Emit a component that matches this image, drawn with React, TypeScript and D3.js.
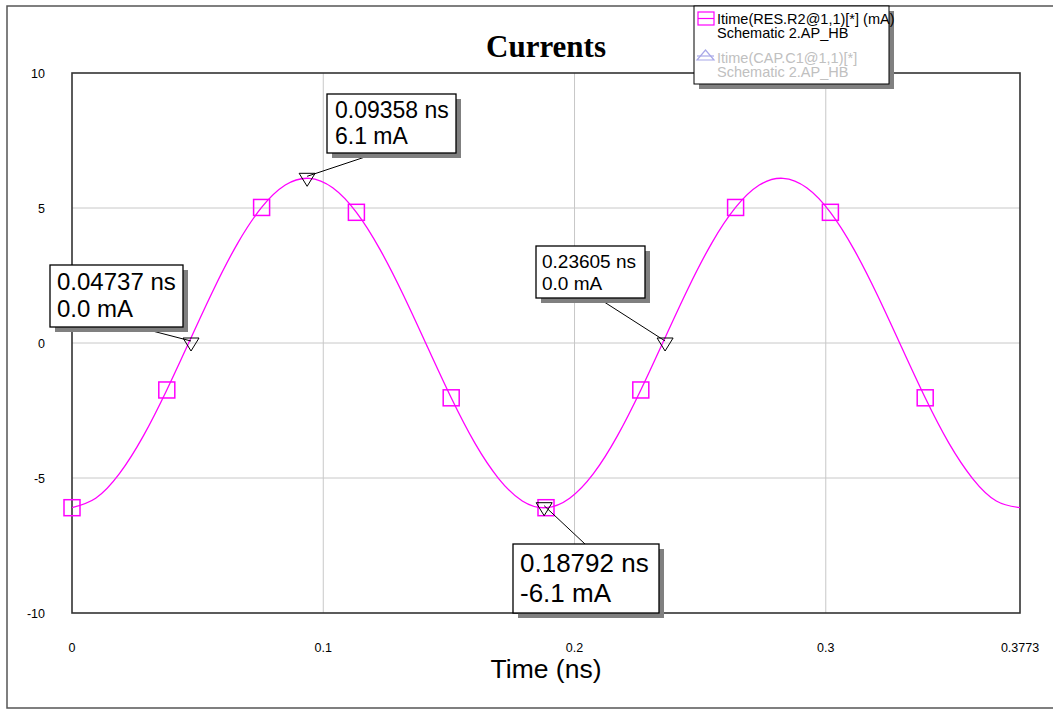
import React from "react";
import * as d3 from "d3";

// Curve samples (time in ns, current in mA)
const sampleTimes = [
  0, 0.00943, 0.01887, 0.0283, 0.03773, 0.04716, 0.0566, 0.06603, 0.07546, 0.08489,
  0.09433, 0.10376, 0.11319, 0.12262, 0.13206, 0.14149, 0.15092, 0.16035, 0.16979, 0.17922,
  0.18865, 0.19808, 0.20752, 0.21695, 0.22638, 0.23581, 0.24525, 0.25468, 0.26411, 0.27354,
  0.28298, 0.29241, 0.30184, 0.31127, 0.32071, 0.33014, 0.33957, 0.349, 0.35844, 0.36787, 0.3773,
];
const sampleValues = [
  -6.1, -5.75, -4.84, -3.46, -1.74, 0.15, 2.03, 3.71, 5.02, 5.85,
  6.1, 5.75, 4.84, 3.46, 1.74, -0.15, -2.03, -3.71, -5.02, -5.85,
  -6.1, -5.75, -4.84, -3.46, -1.74, 0.15, 2.03, 3.71, 5.02, 5.85,
  6.1, 5.75, 4.84, 3.46, 1.74, -0.15, -2.03, -3.71, -5.02, -5.85, -6.1,
];
// Square symbol markers
const markerTimes = [0, 0.03773, 0.07546, 0.11319, 0.15092, 0.18865, 0.22638, 0.26411, 0.30184, 0.33957];
const markerValues = [-6.1, -1.74, 5.02, 4.84, -2.03, -6.1, -1.74, 5.02, 4.84, -2.03];

// Cursor annotations
const cursorTimes = [0.09358, 0.04737, 0.23605, 0.18792];
const cursorValues = [6.1, 0.0, 0.0, -6.1];
const cursorLabels = [
  ["0.09358 ns", "6.1 mA"],
  ["0.04737 ns", "0.0 mA"],
  ["0.23605 ns", "0.0 mA"],
  ["0.18792 ns", "-6.1 mA"],
];

const xTicks = [0, 0.1, 0.2, 0.3, 0.3773];
const xTickLabels = ["0", "0.1", "0.2", "0.3", "0.3773"];
const yTicks = [-10, -5, 0, 5, 10];
const yTickLabels = ["-10", "-5", "0", "5", "10"];
const legendEntries = [
  ["Itime(RES.R2@1,1)[*] (mA)", "Schematic 2.AP_HB"],
  ["Itime(CAP.C1@1,1)[*]", "Schematic 2.AP_HB"],
];

const W = 1053;
const H = 711;
const L = 72, R = 1020, T = 73, B = 613;

// annotation box layout
const boxes = [
  { x: 327, y: 94, w: 129, h: 59, fs: 23, tx: 335, b1: 118, b2: 144, lx: 377, ly: 153 },
  { x: 50, y: 265, w: 133, h: 62, fs: 24, tx: 57, b1: 290, b2: 317, lx: 137, ly: 327 },
  { x: 536, y: 246, w: 109, h: 52, fs: 19, tx: 542, b1: 268, b2: 290, lx: 598, ly: 298 },
  { x: 513, y: 544, w: 146, h: 69, fs: 26, tx: 520, b1: 572, b2: 602, lx: 585, ly: 544 },
];

export default function App() {
  const x = d3.scaleLinear().domain([0, 0.3773]).range([L, R]);
  const y = d3.scaleLinear().domain([-10, 10]).range([B, T]);
  const line = d3
    .line<number>()
    .x((_, i) => x(sampleTimes[i]))
    .y((d) => y(d))
    .curve(d3.curveNatural);
  const path = line(sampleValues) || "";
  const font = "Arial, 'Liberation Sans', sans-serif";

  return (
    <svg
      width={W}
      height={H}
      style={{ position: "absolute", left: 0, top: 0, background: "#fff" }}
      fontFamily={font}
    >
      {/* outer frame */}
      <path d={`M${W},6 H7 V708 H${W}`} fill="none" stroke="#555" strokeWidth={1.5} />

      {/* title */}
      <text x={546} y={57} textAnchor="middle" fontFamily="'Liberation Serif', 'Times New Roman', serif" fontWeight="bold" fontSize={31}>
        Currents
      </text>

      {/* grid */}
      {xTicks.slice(1, 4).map((t) => (
        <line key={"gx" + t} x1={x(t)} x2={x(t)} y1={T} y2={B} stroke="#c8c8c8" strokeWidth={1} />
      ))}
      {yTicks.slice(1, 4).map((t) => (
        <line key={"gy" + t} x1={L} x2={R} y1={y(t)} y2={y(t)} stroke="#c8c8c8" strokeWidth={1} />
      ))}

      {/* plot border */}
      <rect x={L} y={T} width={R - L} height={B - T} fill="none" stroke="#333" strokeWidth={1.6} />

      {/* tick labels */}
      {yTicks.map((t, i) => (
        <text key={"yl" + t} x={45} y={y(t) + 4.5} textAnchor="end" fontSize={12.5}>
          {yTickLabels[i]}
        </text>
      ))}
      {xTicks.map((t, i) => (
        <text key={"xl" + t} x={x(t)} y={652} textAnchor="middle" fontSize={12.5}>
          {xTickLabels[i]}
        </text>
      ))}
      <text x={546} y={678} textAnchor="middle" fontSize={26.5}>
        Time (ns)
      </text>

      {/* curve */}
      <path d={path} fill="none" stroke="#ff00ff" strokeWidth={1.3} />
      {markerTimes.map((t, i) => (
        <rect key={"m" + i} x={x(t) - 8} y={y(markerValues[i]) - 8} width={16} height={16} fill="none" stroke="#ff00ff" strokeWidth={1.5} />
      ))}

      {/* cursor annotations */}
      {cursorTimes.map((t, i) => {
        const cx = x(t);
        const cy = y(cursorValues[i]) + 1;
        const b = boxes[i];
        return (
          <g key={"c" + i}>
            <line x1={b.lx} y1={b.ly} x2={cx} y2={cy - 3} stroke="#000" strokeWidth={1} />
            <path d={`M${cx - 8},${cy - 6} L${cx + 8},${cy - 6} L${cx},${cy + 7} Z`} fill="none" stroke="#000" strokeWidth={1} />
            <rect x={b.x + 5} y={b.y + 5} width={b.w} height={b.h} fill="#808080" />
            <rect x={b.x} y={b.y} width={b.w} height={b.h} fill="#fff" stroke="#000" strokeWidth={1.3} />
            <text x={b.tx} y={b.b1} fontSize={b.fs}>
              {cursorLabels[i][0]}
            </text>
            <text x={b.tx} y={b.b2} fontSize={b.fs}>
              {cursorLabels[i][1]}
            </text>
          </g>
        );
      })}

      {/* legend */}
      <rect x={699} y={11} width={195} height={78} fill="#808080" />
      <rect x={694} y={6} width={195} height={78} fill="#fff" stroke="#000" strokeWidth={1} />
      <rect x={698} y={12} width={16} height={13} fill="none" stroke="#ff00ff" strokeWidth={1.2} />
      <line x1={698} x2={714} y1={18.5} y2={18.5} stroke="#ff00ff" strokeWidth={1.2} />
      <text x={717} y={24} fontSize={14.5} fill="#000">{legendEntries[0][0]}</text>
      <text x={717} y={38} fontSize={14.5} fill="#000">{legendEntries[0][1]}</text>
      <path d="M697,60 L714,60 L705.5,50 Z" fill="none" stroke="#a8a8e8" strokeWidth={1.2} />
      <line x1={697} x2={714} y1={56} y2={56} stroke="#a8a8e8" strokeWidth={1.2} />
      <text x={717} y={63} fontSize={14.5} fill="#c0c0c0">{legendEntries[1][0]}</text>
      <text x={717} y={77} fontSize={14.5} fill="#c0c0c0">{legendEntries[1][1]}</text>
    </svg>
  );
}
